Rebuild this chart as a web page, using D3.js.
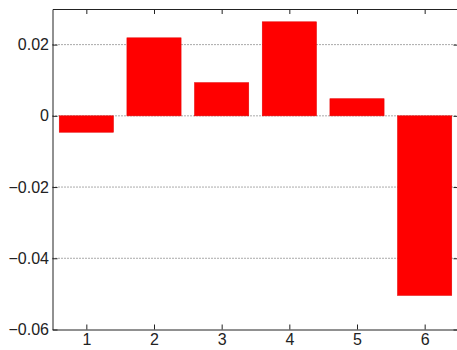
<!DOCTYPE html>
<html>
<head>
<meta charset="utf-8">
<script src="https://cdn.jsdelivr.net/npm/d3@7"></script>
<style>
  html, body { margin: 0; padding: 0; background: #fff; }
  svg { display: block; }
  text { font-family: "Liberation Sans", Arial, Helvetica, sans-serif; font-size: 16px; fill: #222; }
</style>
</head>
<body>
<svg id="chart" width="457" height="350"></svg>
<script>
const categories = [1, 2, 3, 4, 5, 6];
const values = [-0.0046, 0.0219, 0.0093, 0.0264, 0.0048, -0.0504];
const yTicks = [-0.06, -0.04, -0.02, 0, 0.02];
const yTickLabels = ["\u22120.06", "\u22120.04", "\u22120.02", "0", "0.02"];
const xTickLabels = ["1", "2", "3", "4", "5", "6"];

const W = 457, H = 350;
const m = { left: 52.5, right: -1.5, top: 9, bottom: 20.5 };
const svg = d3.select("#chart");

const x = d3.scaleLinear().domain([0.5, 6.5]).range([m.left, W - m.right]);
const y = d3.scaleLinear().domain([-0.06, 0.03]).range([H - m.bottom, m.top]);

// grid (dotted) at y ticks
svg.append("g").selectAll("line")
  .data(yTicks.filter(d => d > -0.06))
  .join("line")
  .attr("x1", x(0.5)).attr("x2", x(6.5))
  .attr("y1", d => y(d)).attr("y2", d => y(d))
  .attr("stroke", "#555").attr("stroke-width", 1)
  .attr("stroke-dasharray", "1,2");

// bars
const bw = 0.8;
svg.append("g").selectAll("rect")
  .data(categories.map((c, i) => ({ c, v: values[i] })))
  .join("rect")
  .attr("x", d => x(d.c - bw / 2))
  .attr("width", d => x(d.c + bw / 2) - x(d.c - bw / 2))
  .attr("y", d => y(Math.max(0, d.v)))
  .attr("height", d => Math.abs(y(d.v) - y(0)))
  .attr("fill", "#ff0000")
  .attr("stroke", "#e60000").attr("stroke-width", 0.6);

// axes with inward ticks
const tl = 5;
const xAxisB = d3.axisBottom(x).tickValues(categories).tickFormat((d, i) => xTickLabels[i]).tickSizeInner(-tl).tickSizeOuter(0).tickPadding(4.5);
const xAxisT = d3.axisTop(x).tickValues(categories).tickFormat("").tickSizeInner(-tl).tickSizeOuter(0);
const yAxisL = d3.axisLeft(y).tickValues(yTicks).tickFormat((d, i) => yTickLabels[i]).tickSizeInner(-tl).tickSizeOuter(0).tickPadding(3.5);
const yAxisR = d3.axisRight(y).tickValues(yTicks).tickFormat("").tickSizeInner(-tl).tickSizeOuter(0);

function style(g) {
  g.selectAll("path").attr("stroke", "#222").attr("stroke-width", 1);
  g.selectAll("line").attr("stroke", "#222").attr("stroke-width", 1);
  g.selectAll("text").attr("fill", "#222").style("font-size", "16px")
    .style("font-family", "'Liberation Sans', Arial, Helvetica, sans-serif");
}

svg.append("g").attr("transform", `translate(0,${y(-0.06)})`).call(xAxisB).call(style);
svg.append("g").attr("transform", `translate(0,${y(0.03)})`).call(xAxisT).call(style);
svg.append("g").attr("transform", `translate(${x(0.5)},0)`).call(yAxisL).call(style);
svg.append("g").attr("transform", `translate(${x(6.5)},0)`).call(yAxisR).call(style);
</script>
</body>
</html>
